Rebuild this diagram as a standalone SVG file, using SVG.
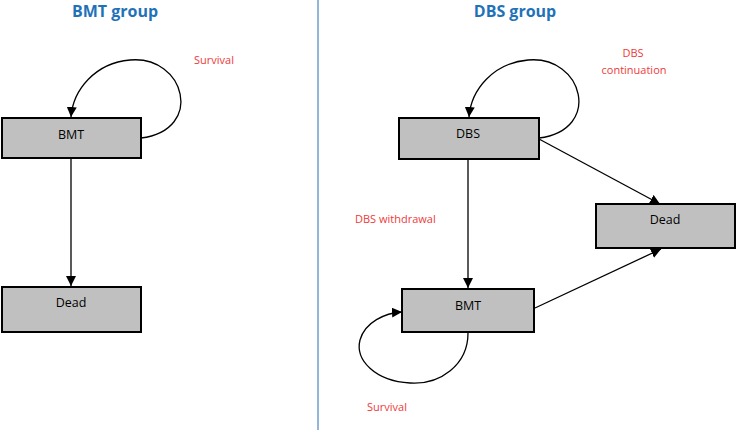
<svg xmlns="http://www.w3.org/2000/svg" width="736" height="430" viewBox="0 0 736 430">
<style>
.box{fill:#c0c0c0;stroke:#000;stroke-width:2}
.lbl{font-family:"Open Sans","Liberation Sans",sans-serif;font-size:12.5px;fill:#000;text-anchor:middle}
.red{font-family:"Open Sans","Liberation Sans",sans-serif;font-size:11px;fill:#ee3a3a}
.title{font-family:"Open Sans","Liberation Sans",sans-serif;font-size:16px;font-weight:bold;fill:#1f72b8;text-anchor:middle}
.edge{fill:none;stroke:#000;stroke-width:1.3;marker-end:url(#ah)}
</style>
<defs>
<marker id="ah" markerUnits="userSpaceOnUse" markerWidth="12" markerHeight="10" refX="10" refY="5" orient="auto">
<path d="M0,0 L10,5 L0,10 Z" fill="#000"/>
</marker>
</defs>
<rect width="736" height="430" fill="#fff"/>
<line x1="318" y1="0" x2="318" y2="430" stroke="#5b8fc7" stroke-width="1.3"/>
<text class="title" x="115" y="17">BMT group</text>
<text class="title" x="515" y="17">DBS group</text>
<g id="connectors">
<path class="edge" d="M141,138 C205,130 185,55 130,60 C95,63 73,90 71,117"/>
<path class="edge" d="M71,158 L71,286"/>
<path class="edge" d="M539,138 C603,130 583,55 528,60 C493,63 471,90 469,117"/>
<path class="edge" d="M468,159 L468,288"/>
<path class="edge" d="M539,139 L660,204"/>
<path class="edge" d="M535,308 L661,249"/>
<path class="edge" d="M468,333 C468,365 440,385 410,383 C375,381 355,360 360,340 C365,322 385,313 402,312"/>
</g>
<g id="lbmt"><rect class="box" x="2" y="118" width="139" height="40"/><text class="lbl" x="71" y="139">BMT</text></g>
<g id="ldead"><rect class="box" x="2" y="287" width="139" height="45"/><text class="lbl" x="71" y="307">Dead</text></g>
<g id="rdbs"><rect class="box" x="399" y="118" width="140" height="41"/><text class="lbl" x="468" y="138">DBS</text></g>
<g id="rdead"><rect class="box" x="596" y="204" width="139" height="44"/><text class="lbl" x="665" y="224">Dead</text></g>
<g id="rbmt"><rect class="box" x="402" y="289" width="132" height="43"/><text class="lbl" x="468" y="310">BMT</text></g>
<text class="red" x="194" y="64">Survival</text>
<text class="red" x="633" y="57" text-anchor="middle">DBS</text>
<text class="red" x="634" y="74" text-anchor="middle">continuation</text>
<text class="red" x="355" y="223">DBS withdrawal</text>
<text class="red" x="367" y="411">Survival</text>
</svg>
